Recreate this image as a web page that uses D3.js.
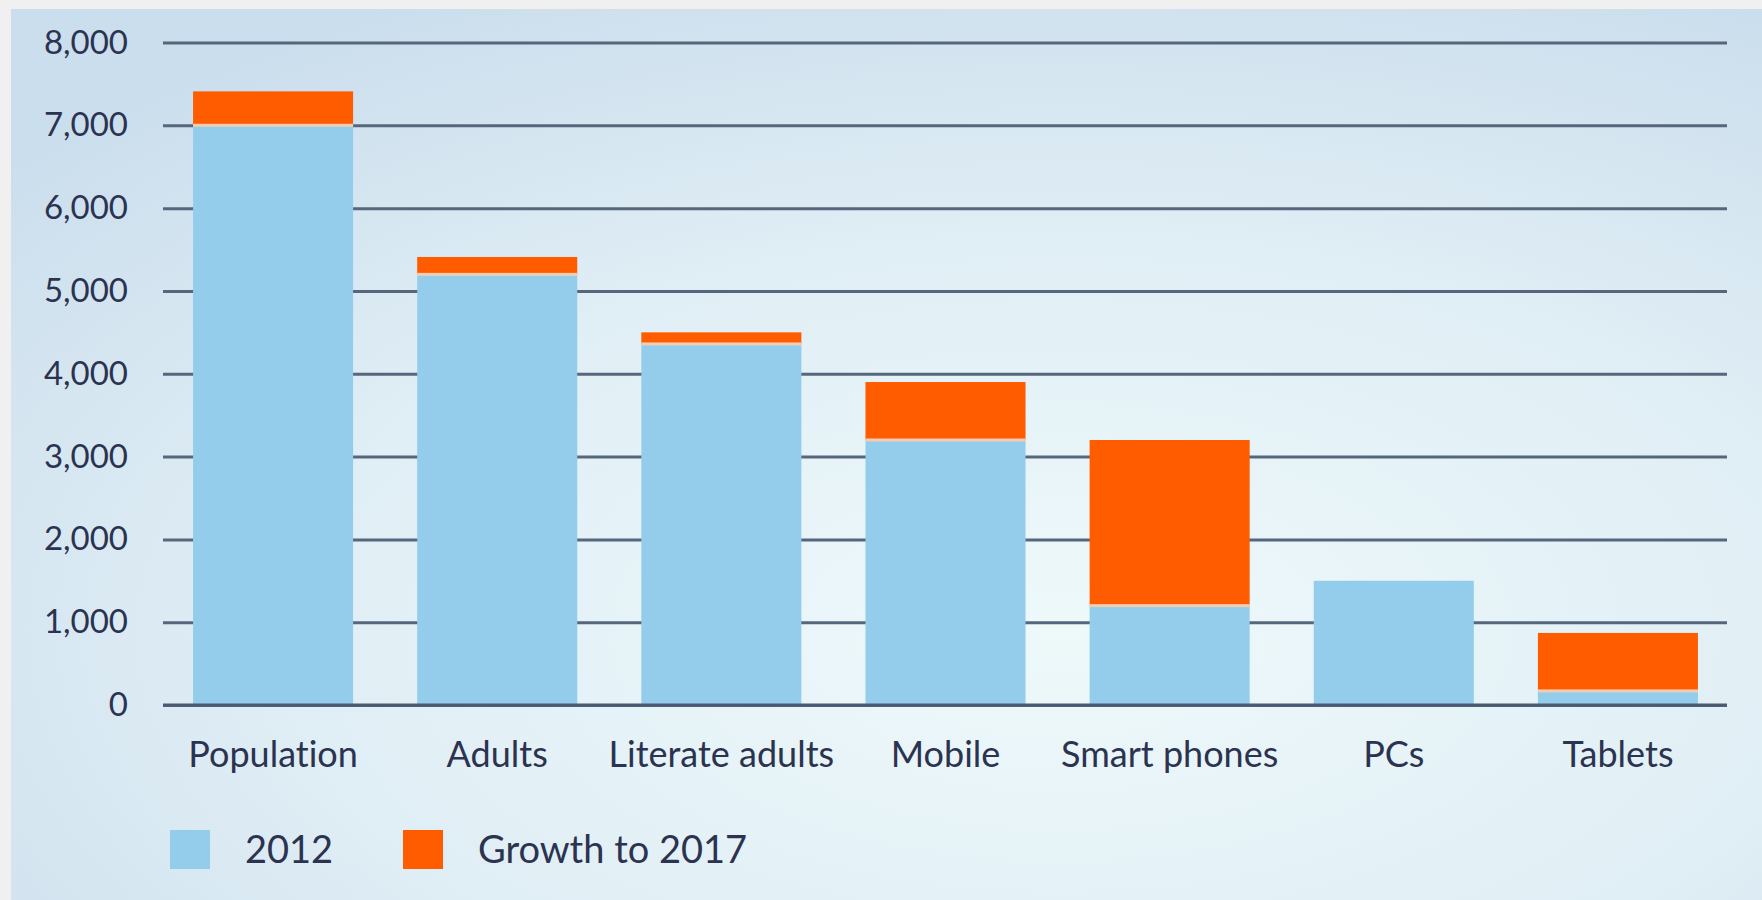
<!DOCTYPE html>
<html>
<head>
<meta charset="utf-8">
<script src="https://cdn.jsdelivr.net/npm/d3@7"></script>
<style>
  html, body { margin: 0; padding: 0; background: #f0f0f0; }
  #chart { width: 1762px; height: 900px; }
  text {
    font-family: Lato, "Open Sans", sans-serif;
    font-weight: 400;
    font-variant-ligatures: none;
    fill: #2b3350;
  }
</style>
</head>
<body>
<div id="chart"></div>
<script>
// Datos del grafico (millones)
const categorias = ["Population", "Adults", "Literate adults", "Mobile", "Smart phones", "PCs", "Tablets"]
const valores2012 = [7000, 5200, 4360, 3200, 1200, 1500, 170]
const crecimiento2017 = [410, 210, 140, 700, 2000, 0, 700]
const ticksY = [0, 1000, 2000, 3000, 4000, 5000, 6000, 7000, 8000]
const series = ["2012", "Growth to 2017"]

const anchoTotal = 1762
const altoTotal = 900

const svg = d3.select("#chart")
  .append("svg")
  .attr("width", anchoTotal)
  .attr("height", altoTotal)

// Fondo con degradado
const defs = svg.append("defs")
const grad = defs.append("radialGradient")
  .attr("id", "fondo")
  .attr("cx", "0.6").attr("cy", "0.7").attr("r", "0.8")
grad.append("stop").attr("offset", "0%").attr("stop-color", "#eef9fa")
grad.append("stop").attr("offset", "55%").attr("stop-color", "#e0eef5")
grad.append("stop").attr("offset", "100%").attr("stop-color", "#cbdeed")

svg.append("rect")
  .attr("x", 11).attr("y", 9)
  .attr("width", anchoTotal - 11).attr("height", altoTotal - 9)
  .attr("fill", "url(#fondo)")

// Escaladores
const x = d3.scaleBand()
  .domain(categorias)
  .range([161, 1730])
  .paddingInner(0.286)
  .paddingOuter(0.143)

const y = d3.scaleLinear()
  .domain([0, 8000])
  .range([705, 42.5])

const color = d3.scaleOrdinal()
  .domain(series)
  .range(["#93cdeb", "#ff5c00"])

// Eje Y con lineas de cuadricula
const xIni = 163, xFin = 1727
const yAxis = d3.axisLeft(y)
  .tickValues(ticksY)
  .tickFormat(d3.format(","))
  .tickSize(-(xFin - xIni))
  .tickPadding(35)

const yAxisGroup = svg.append("g")
  .attr("transform", `translate(${xIni}, 0)`)
  .call(yAxis)
yAxisGroup.select(".domain").remove()
yAxisGroup.selectAll(".tick line")
  .attr("stroke", "#56677d")
  .attr("stroke-width", 3)
yAxisGroup.selectAll(".tick text")
  .style("font-size", "33px")
  .attr("fill", "#2b3350")

// Datos apilados
const tabla = categorias.map((c, i) => ({ cat: c, "2012": valores2012[i], "Growth to 2017": crecimiento2017[i] }))
const pila = d3.stack().keys(series)(tabla)

const capas = svg.append("g")
  .selectAll("g")
  .data(pila)
  .join("g")
  .attr("fill", (d) => color(d.key))

capas.selectAll("rect")
  .data((d) => d)
  .join("rect")
  .attr("x", (d) => x(d.data.cat))
  .attr("y", (d) => y(d[1]))
  .attr("width", x.bandwidth())
  .attr("height", (d) => y(d[0]) - y(d[1]))

// Linea clara entre segmentos
svg.append("g")
  .selectAll("rect")
  .data(pila[1].filter((d) => d[1] > d[0]))
  .join("rect")
  .attr("x", (d) => x(d.data.cat))
  .attr("y", (d) => y(d[0]) - 1.5)
  .attr("width", x.bandwidth())
  .attr("height", 3)
  .attr("fill", "#f3cdb3")

// Linea base
svg.append("line")
  .attr("x1", xIni).attr("x2", xFin)
  .attr("y1", y(0)).attr("y2", y(0))
  .attr("stroke", "#4a5a72")
  .attr("stroke-width", 3)

// Etiquetas del eje X
const xAxis = d3.axisBottom(x).tickSize(0).tickPadding(0)
const xAxisGroup = svg.append("g")
  .attr("transform", `translate(0, ${y(0)})`)
  .call(xAxis)
xAxisGroup.select(".domain").remove()
xAxisGroup.selectAll(".tick text")
  .attr("y", 62)
  .attr("dy", 0)
  .style("font-size", "36px")
  .attr("fill", "#2b3350")

// Leyenda
const leyenda = svg.append("g")
const posLeyenda = [170, 403]
leyenda.selectAll("rect")
  .data(series)
  .join("rect")
  .attr("x", (d, i) => posLeyenda[i])
  .attr("y", 830)
  .attr("width", 40)
  .attr("height", 39)
  .attr("fill", (d) => color(d))

leyenda.selectAll("text")
  .data(series)
  .join("text")
  .attr("x", (d, i) => posLeyenda[i] + 75)
  .attr("y", 863)
  .style("font-size", "38px")
  .text((d) => d)
</script>
</body>
</html>
